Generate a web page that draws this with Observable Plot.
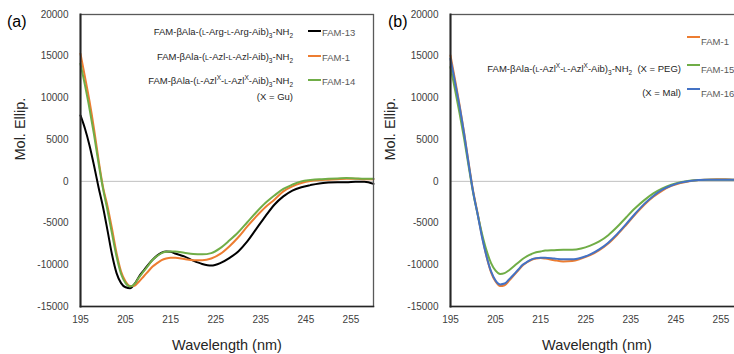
<!DOCTYPE html>
<html><head><meta charset="utf-8">
<script src="https://cdn.jsdelivr.net/npm/d3@7"></script>
<script src="https://cdn.jsdelivr.net/npm/@observablehq/plot@0.6"></script>
<style>
body{margin:0;background:#fff;}
#wrap{position:relative;width:734px;height:354px;overflow:hidden;font-family:"Liberation Sans",Arial,sans-serif;background:#fff;}
.plot{position:absolute;top:0;}
.lg{position:absolute;font-size:9.5px;line-height:12px;color:#262626;white-space:nowrap;text-align:right;}
.sc{font-size:7px;}
sub,sup{font-size:6.5px;line-height:0;}
.mk{position:absolute;height:2px;width:13px;}
.lab{position:absolute;font-size:9.5px;line-height:12px;color:#595959;white-space:nowrap;}
.panel{position:absolute;font-size:16px;line-height:18px;color:#000;}
</style>
</head><body>
<div id="wrap"></div>
<script>
// ---- data ----
const wavelength = [195,196,197,198,199,200,201,202,203,204,205,206,207,208,209,210,211,212,213,214,215,216,218,220,222,224,226,228,230,232,234,236,238,240,242,244,246,248,250,252,254,256,258,260];

// panel (a)
const fam13 = [7900,6300,4300,1900,-700,-3100,-5900,-8800,-11000,-12200,-12700,-12800,-12300,-11400,-10700,-10000,-9400,-8900,-8550,-8400,-8450,-8650,-9000,-9500,-9900,-10100,-9800,-9200,-8400,-7200,-5700,-4200,-2800,-1800,-1100,-700,-450,-250,-150,-100,-100,-50,-50,-300];
const fam1a = [15300,12500,9600,6300,2600,-700,-3000,-5700,-8600,-10800,-12000,-12550,-12500,-12000,-11400,-10800,-10200,-9800,-9450,-9250,-9150,-9150,-9300,-9450,-9450,-9250,-8700,-7800,-6700,-5400,-4200,-3100,-2200,-1200,-600,-200,50,150,200,250,300,300,250,250];
const fam14 = [14100,11500,8700,5600,2200,-900,-3500,-6300,-9000,-11100,-12200,-12600,-12300,-11500,-10800,-10100,-9400,-8950,-8600,-8450,-8400,-8400,-8550,-8700,-8750,-8600,-8000,-7100,-6100,-4900,-3700,-2600,-1700,-900,-400,0,150,250,300,350,400,350,300,300];

// panel (b)
const fam1b = [15100,12200,9200,5900,2300,-1100,-3800,-6600,-9000,-10900,-12000,-12550,-12450,-11900,-11300,-10700,-10100,-9700,-9400,-9250,-9200,-9250,-9450,-9600,-9550,-9250,-8850,-8250,-7450,-6400,-5200,-3950,-2800,-1850,-1100,-550,-200,20,150,200,250,250,200,200];
const fam15 = [13700,11000,8200,5200,1900,-1300,-3900,-6300,-8300,-9800,-10700,-11100,-11000,-10650,-10200,-9750,-9300,-8950,-8700,-8500,-8400,-8300,-8250,-8200,-8200,-8050,-7700,-7200,-6450,-5450,-4300,-3200,-2250,-1450,-850,-400,-100,80,150,200,200,200,200,150];
const fam16 = [14700,11900,9000,5800,2200,-1200,-3900,-6700,-9000,-10800,-11900,-12350,-12250,-11750,-11200,-10600,-10000,-9650,-9350,-9200,-9150,-9150,-9250,-9350,-9350,-9150,-8750,-8150,-7350,-6300,-5100,-3850,-2700,-1750,-1000,-500,-150,30,150,200,200,200,200,150];

const xTicks = [195,205,215,225,235,245,255];
const yTicks = [-15000,-10000,-5000,0,5000,10000,15000,20000];
const xDomain = [195,260];
const yDomain = [-15000,20000];
const xLabel = "Wavelength (nm)";
const yLabel = "Mol. Ellip.";

const seriesA = [
  {name:"FAM-13", values:fam13, color:"#000000"},
  {name:"FAM-1", values:fam1a, color:"#ED7D31"},
  {name:"FAM-14", values:fam14, color:"#70AD47"}
];
const seriesB = [
  {name:"FAM-1", values:fam1b, color:"#ED7D31"},
  {name:"FAM-15", values:fam15, color:"#70AD47"},
  {name:"FAM-16", values:fam16, color:"#4472C4"}
];

function panel(series){
  const lines = series.map(s => Plot.line(
    wavelength.map((w,i)=>({w, v:s.values[i]})),
    {x:"w", y:"v", stroke:s.color, strokeWidth:2, curve:"monotone-x"}
  ));
  return Plot.plot({
    width:373, height:354,
    marginLeft:80, marginRight:0, marginTop:14, marginBottom:48,
    style:{fontFamily:'"Liberation Sans",Arial,sans-serif', fontSize:"10px", color:"#404040", background:"transparent", overflow:"visible"},
    x:{domain:xDomain},
    y:{domain:yDomain},
    marks:[
      Plot.ruleY([0], {stroke:"#c0c0c0", strokeWidth:1}),
      ...lines,
      Plot.frame({stroke:"#595959", strokeWidth:1.3}),
      Plot.frame({anchor:"left", stroke:"#262626", strokeWidth:2}),
      Plot.frame({anchor:"bottom", stroke:"#262626", strokeWidth:1.5}),
      Plot.axisX({ticks:xTicks, tickSize:0, tickPadding:9, tickFormat:d=>String(d), label:null, fill:"#404040", fontSize:10}),
      Plot.axisY({ticks:yTicks, tickSize:0, tickPadding:12, tickFormat:d=>String(d), label:null, fill:"#404040", fontSize:10}),
      Plot.text([xLabel], {frameAnchor:"bottom", dy:39, text:d=>d, fontSize:14.5, fill:"#262626", lineAnchor:"middle"}),
      Plot.text([yLabel], {frameAnchor:"left", dx:-60, rotate:-90, text:d=>d, fontSize:14.5, fill:"#262626", lineAnchor:"middle"})
    ]
  });
}

const wrap = document.getElementById("wrap");
const pa = panel(seriesA); pa.classList.add("plot"); pa.style.left="0px";
const pb = panel(seriesB); pb.classList.add("plot"); pb.style.left="370px";
wrap.appendChild(pa); wrap.appendChild(pb);

function add(html){ wrap.insertAdjacentHTML("beforeend", html); }

// panel labels
add('<div class="panel" style="left:7px;top:13px">(a)</div>');
add('<div class="panel" style="left:388px;top:13px">(b)</div>');

// legend (a)
const L = '<span class="sc">L</span>';
const legA = [
  `FAM-βAla-(${L}-Arg-${L}-Arg-Aib)<sub>3</sub>-NH<sub>2</sub>`,
  `FAM-βAla-(${L}-Azl-${L}-Azl-Aib)<sub>3</sub>-NH<sub>2</sub>`,
  `FAM-βAla-(${L}-Azl<sup>X</sup>-${L}-Azl<sup>X</sup>-Aib)<sub>3</sub>-NH<sub>2</sub>`
];
const rowA = [32,57,81];
legA.forEach((t,i)=>{
  add(`<div class="lg" style="right:${734-293}px;top:${rowA[i]-6}px">${t}</div>`);
  add(`<div class="mk" style="left:308px;top:${rowA[i]-2}px;background:${seriesA[i].color}"></div>`);
  add(`<div class="lab" style="left:322px;top:${rowA[i]-5}px">${seriesA[i].name}</div>`);
});
add(`<div class="lg" style="right:${734-293}px;top:${97-6}px">(X = Gu)</div>`);

// legend (b)
const legB = [
  "",
  `FAM-βAla-(${L}-Azl<sup>X</sup>-${L}-Azl<sup>X</sup>-Aib)<sub>3</sub>-NH<sub>2</sub>&nbsp;&nbsp;(X = PEG)`,
  "(X = Mal)"
];
const rowB = [41,69,93];
legB.forEach((t,i)=>{
  if (t) add(`<div class="lg" style="right:${734-681}px;top:${rowB[i]-6}px">${t}</div>`);
  add(`<div class="mk" style="left:687px;top:${rowB[i]-5}px;background:${seriesB[i].color}"></div>`);
  add(`<div class="lab" style="left:701px;top:${rowB[i]-5}px">${seriesB[i].name}</div>`);
});
</script>
</body></html>
